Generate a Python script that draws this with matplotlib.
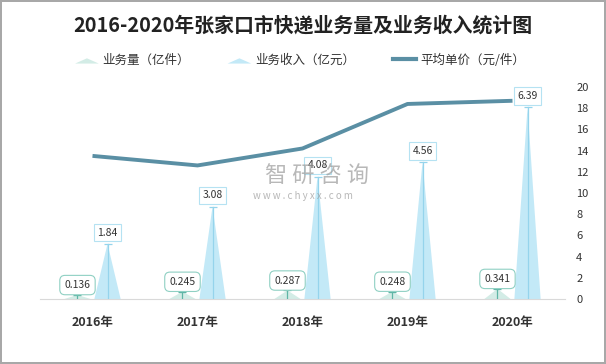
import matplotlib
matplotlib.use('Agg')
import matplotlib.pyplot as plt
from matplotlib.patches import Polygon, Patch
from matplotlib.lines import Line2D
from matplotlib.legend_handler import HandlerPatch
import numpy as np

plt.rcParams['font.family'] = ['Noto Sans CJK SC', 'DejaVu Sans']

# data
years      = ['2016年', '2017年', '2018年', '2019年', '2020年']
volume     = [0.136, 0.245, 0.287, 0.248, 0.341]   # 业务量（亿件）
revenue    = [1.84, 3.08, 4.08, 4.56, 6.39]        # 业务收入（亿元）
unit_price = [13.5, 12.6, 14.2, 18.4, 18.7]        # 平均单价（元/件）

vol_fill  = '#d3ece6'
vol_line  = '#5fb5a6'
vol_box   = '#8fd0c3'
rev_fill  = '#c3e9f7'
rev_line  = '#95d4ec'
price_col = '#5a8fa4'
txt_col   = '#333333'


def spike(ax, xc, h, w, fill, line):
    """draw one triangle spike with centre line and cap"""
    tri = Polygon([[xc - w/2, 0], [xc, h], [xc + w/2, 0]], closed=True,
                  fc=fill, ec='none', zorder=2)
    ax.add_patch(tri)
    ax.plot([xc, xc], [0, h], color=line, lw=0.9, zorder=3)
    ax.plot([xc], [h], marker='_', ms=6, mew=0.9, color=line, zorder=3)


def tri_handle(legend, orig_handle, xdescent, ydescent, width, height, fontsize):
    x0, y0 = -xdescent, -ydescent
    return Polygon([[x0, y0], [x0 + width/2, y0 + height*0.6], [x0 + width, y0]],
                   closed=True)


fig = plt.figure(figsize=(6.06, 3.64), dpi=100)
fig.patch.set_edgecolor('#a8a8a8')
fig.patch.set_linewidth(1.5)

ax = fig.add_axes([40/606, 65/364, 525/606, 212/364])
ax2 = ax.twinx()
ax.set_zorder(ax2.get_zorder() + 1)
ax.patch.set_visible(False)

x = np.arange(len(years))
off = 0.143
w = 0.25

for i in range(len(years)):
    spike(ax, x[i] - off, volume[i], w, vol_fill, vol_line)
    spike(ax, x[i] + off, revenue[i], w, rev_fill, rev_line)
    ax.annotate(str(volume[i]), (x[i] - off, volume[i]), xytext=(0, 3.5),
                textcoords='offset points', ha='center', va='bottom',
                fontsize=7.5, color=txt_col, zorder=5,
                bbox=dict(boxstyle='round,pad=0.45,rounding_size=0.5',
                          fc='white', ec=vol_box, lw=0.8))
    ax.annotate(str(revenue[i]), (x[i] + off, revenue[i]), xytext=(0, 4.5),
                textcoords='offset points', ha='center', va='bottom',
                fontsize=7.5, color=txt_col, zorder=5,
                bbox=dict(boxstyle='square,pad=0.35', fc='white',
                          ec='#b5e2f2', lw=0.8))

ax.set_xlim(-0.5, len(years) - 0.5)
ax.set_ylim(0, 7.07)
ax.set_xticks(x)
ax.set_xticklabels(years, fontsize=9, fontweight='bold', color=txt_col)
ax.tick_params(axis='x', length=0, pad=12)
ax.set_yticks([])
for s in ['top', 'left', 'right']:
    ax.spines[s].set_visible(False)
ax.spines['bottom'].set_color('#d9d9d9')

ax2.plot(x, unit_price, color=price_col, lw=2.8, solid_capstyle='butt', zorder=2)
ax2.set_ylim(0, 20)
ax2.set_yticks(np.arange(0, 21, 2))
ax2.tick_params(axis='y', length=0, pad=8, labelsize=8, labelcolor=txt_col)
for s in ax2.spines.values():
    s.set_visible(False)

# title and legend
fig.text(303/606, 1 - 25/364, '2016-2020年张家口市快递业务量及业务收入统计图',
         ha='center', va='center', fontsize=14.3, fontweight='bold', color='#222222')

handles = [Patch(fc=vol_fill, ec='none'), Patch(fc=rev_fill, ec='none'),
           Line2D([], [], color=price_col, lw=3)]
labels = ['业务量（亿件）', '业务收入（亿元）', '平均单价（元/件）']
fig.legend(handles, labels, loc='center', bbox_to_anchor=(300/606, 1 - 60/364),
           ncol=3, frameon=False, fontsize=9, handlelength=1.9,
           handletextpad=0.3, columnspacing=3.0,
           handler_map={Patch: HandlerPatch(patch_func=tri_handle)},
           labelcolor=txt_col)

# watermark
fig.text(317/606, 1 - 176/364, '智 研 咨 询', ha='center', va='center',
         fontsize=16, color='#a0a0a0', alpha=0.75)
fig.text(303/606, 1 - 196/364, 'w w w . c h y x x . c o m', ha='center',
         va='center', fontsize=7, color='#a0a0a0', alpha=0.75)

fig.savefig('out.png', dpi=100)
